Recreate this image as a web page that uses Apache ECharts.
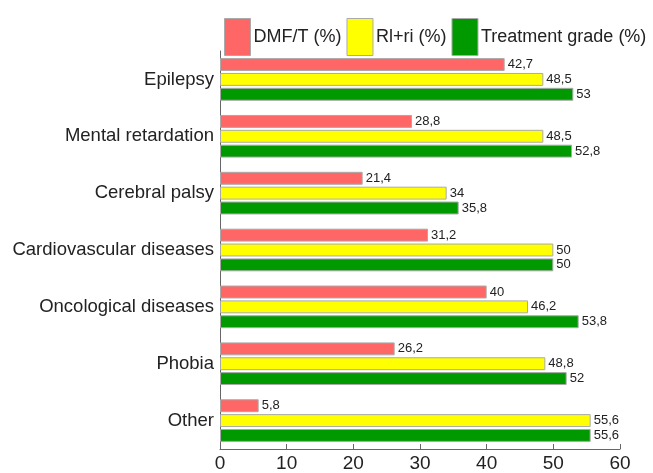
<!DOCTYPE html>
<html><head><meta charset="utf-8">
<script src="https://cdn.jsdelivr.net/npm/echarts@6/dist/echarts.min.js"></script>
<style>html,body{margin:0;padding:0;background:#fff}#c{width:653px;height:473px}</style>
</head><body><div id="c"></div>
<script>
const categories = ['Epilepsy','Mental retardation','Cerebral palsy','Cardiovascular diseases','Oncological diseases','Phobia','Other'];
const dmft = [42.7, 28.8, 21.4, 31.2, 40, 26.2, 5.8];
const rlri = [48.5, 48.5, 34, 50, 46.2, 48.8, 55.6];
const treatment = [53, 52.8, 35.8, 50, 53.8, 52, 55.6];
const seriesNames = ['DMF/T (%)', 'Rl+ri (%)', 'Treatment grade (%)'];
const colors = ['#ff6666', '#ffff00', '#009900'];
const xTicks = [0, 60, 10];

const chart = echarts.init(document.getElementById('c'), null, {renderer:'canvas'});
const fmt = p => String(p.value).replace('.', ',');
const mk = (name, data, color) => ({
  name, type:'bar', data,
  itemStyle:{color, borderColor:'#aaa', borderWidth:1},
  barGap:'15%', barCategoryGap:'25%',
  label:{show:true, position:'right', distance:3, fontSize:13, color:'#222', fontFamily:'Arial, Liberation Sans', formatter:fmt}
});
chart.setOption({
  animation:false,
  textStyle:{fontFamily:'Arial, Liberation Sans'},
  legend:{
    left:219, top:13, itemWidth:26, itemHeight:37, itemGap:5,
    icon:'rect',
    textStyle:{fontSize:18, color:'#222', padding:[0,0,0,-2]},
    itemStyle:{borderColor:'#aaa', borderWidth:1},
    data: seriesNames
  },
  grid:{left:220, right:33, top:51, bottom:23, containLabel:false},
  xAxis:{
    type:'value', min:xTicks[0], max:xTicks[1], interval:xTicks[2],
    axisLine:{show:true, lineStyle:{color:'#666'}},
    axisTick:{show:true, inside:true, length:5, lineStyle:{color:'#666'}},
    splitLine:{show:false},
    axisLabel:{fontSize:19, color:'#222', margin:5}
  },
  yAxis:{
    type:'category', data:categories, inverse:true,
    axisLine:{show:true, lineStyle:{color:'#666'}},
    axisTick:{show:false},
    axisLabel:{fontSize:18.5, color:'#222', margin:6}
  },
  series:[mk(seriesNames[0], dmft, colors[0]), mk(seriesNames[1], rlri, colors[1]), mk(seriesNames[2], treatment, colors[2])]
});
</script></body></html>
